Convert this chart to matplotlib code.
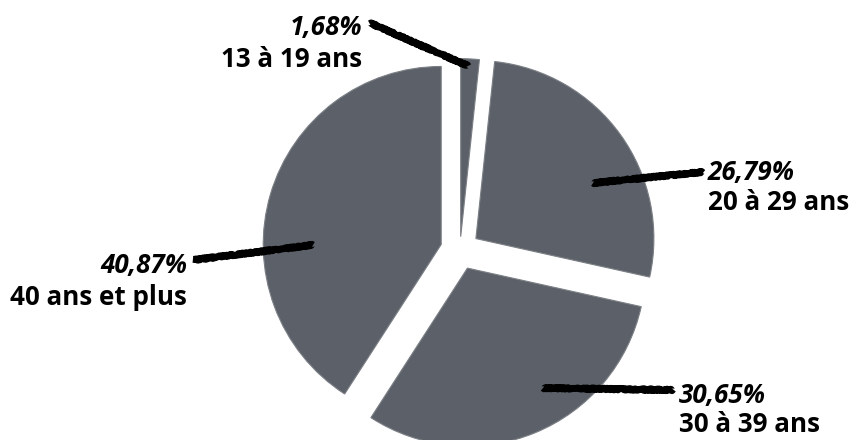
import numpy as np
import matplotlib.pyplot as plt

# age groups, clockwise from the top
categories = ['13 à 19 ans', '20 à 29 ans', '30 à 39 ans', '40 ans et plus']
shares = [1.68, 26.79, 30.65, 40.87]
pct_labels = ['1,68%', '26,79%', '30,65%', '40,87%']

W, H = 852, 440
R_PX = 178.0          # pie radius in pixels
CX, CY = 460, 250     # pie centre in pixels (y from top)


def px(x, y):
    """pixel position (y from top) -> data coords of the pie axes"""
    return (x - CX) / R_PX, (CY - y) / R_PX


fig = plt.figure(figsize=(W / 100, H / 100), dpi=100)
ax = fig.add_axes([0, 0, 1, 1])

wedges, _ = ax.pie(shares, startangle=90, counterclock=False,
                   explode=[0.075, 0.11, 0.11, 0.11], radius=1.0,
                   colors=['#5c6169'] * 4,
                   wedgeprops=dict(edgecolor='#7c8086', linewidth=0.8))
ax.set_xlim(-CX / R_PX, (W - CX) / R_PX)
ax.set_ylim(-(H - CY) / R_PX, CY / R_PX)
ax.axis('off')

# leader line start / end, text x, baselines and alignment (pixel layout)
layout = [
    ((468, 66), (370, 23), 362, (35, 67), 'right'),
    ((593, 183), (703, 172), 708, (180, 210), 'left'),
    ((543, 388), (673, 390), 679, (403, 432), 'left'),
    ((313, 245), (193, 260), 187, (273, 305), 'right'),
]

font = ['Open Sans', 'DejaVu Sans']
for cat, pct, (p0, p1, tx, (b1, b2), ha) in zip(categories, pct_labels, layout):
    x0, y0 = px(*p0)
    x1, y1 = px(*p1)
    ln, = ax.plot([x0, x1], [y0, y1], color='black', lw=5,
                  solid_capstyle='butt', zorder=5)
    ln.set_sketch_params(scale=0.8, length=2, randomness=2)
    ax.text(*px(tx, b1), pct, ha=ha, va='baseline', fontsize=18.7,
            fontweight='bold', fontstyle='italic', family=font, color='black')
    ax.text(*px(tx, b2), cat, ha=ha, va='baseline', fontsize=18.7,
            fontweight='bold', family=font, color='black')

fig.savefig('out.png', dpi=100, facecolor='white')
